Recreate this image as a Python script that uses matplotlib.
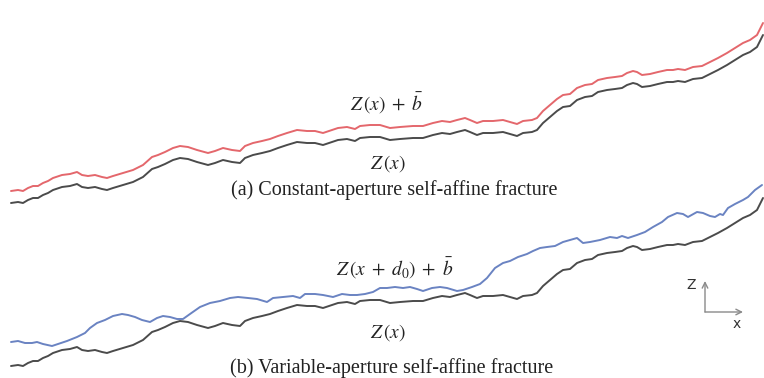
import matplotlib.pyplot as plt

# fracture wall profile Z(x), heights above the left end of the profile
profile_x = [11, 18, 23, 28, 33, 38, 43, 48, 53, 62, 70, 77, 82, 88, 95, 102, 107, 113, 123, 133,
             143, 152, 158, 165, 173, 180, 188, 197, 208, 215, 223, 232, 240, 245, 253, 262, 270, 278, 287, 297,
             307, 315, 323, 332, 338, 347, 355, 360, 370, 380, 390, 400, 413, 423, 433, 442, 450, 457, 465, 470,
             477, 483, 493, 503, 510, 517, 523, 532, 537, 543, 550, 557, 563, 570, 577, 585, 592, 598, 607, 615,
             622, 627, 633, 637, 642, 650, 658, 667, 673, 678, 685, 693, 702, 710, 718, 727, 735, 743, 750, 757,
             763]
profile_z = [0, 1, 0, 3, 5, 5, 8, 10, 13, 16, 17, 19, 16, 15, 16, 14, 13, 15, 18, 21,
             26, 34, 36, 39, 43, 45, 44, 41, 38, 40, 43, 41, 40, 45, 48, 50, 52, 55, 58, 61,
             60, 60, 58, 61, 63, 64, 62, 65, 66, 66, 63, 64, 65, 65, 68, 70, 69, 71, 73, 71,
             68, 70, 70, 71, 69, 67, 70, 71, 73, 80, 86, 92, 96, 97, 103, 106, 107, 111, 113, 114,
             115, 118, 120, 119, 116, 117, 119, 121, 121, 122, 121, 124, 125, 129, 133, 138, 143, 148, 151, 156,
             168]
mean_aperture = 12

# shifted upper wall Z(x + d0) + b for the variable-aperture case
shifted_x = [11, 18, 25, 32, 37, 43, 52, 58, 67, 77, 85, 90, 97, 105, 113, 122, 128, 135, 142, 150,
             157, 163, 170, 177, 183, 190, 200, 210, 220, 230, 238, 248, 257, 267, 273, 283, 293, 300, 305, 315,
             323, 333, 342, 350, 357, 365, 373, 380, 387, 395, 403, 410, 417, 423, 432, 440, 447, 457, 463, 472,
             480, 487, 495, 503, 510, 518, 527, 533, 540, 547, 555, 563, 570, 577, 583, 590, 600, 610, 617, 622,
             628, 637, 645, 653, 662, 668, 677, 683, 688, 697, 703, 710, 715, 720, 723, 728, 735, 743, 748, 755,
             762]
shifted_z = [24, 25, 23, 23, 24, 22, 20, 22, 25, 29, 33, 38, 43, 46, 50, 52, 51, 49, 46, 44,
             48, 50, 49, 47, 47, 52, 59, 63, 65, 68, 69, 68, 67, 64, 68, 69, 70, 68, 72, 72,
             71, 69, 72, 71, 71, 72, 74, 78, 78, 79, 78, 79, 77, 75, 78, 79, 78, 75, 76, 79,
             82, 88, 98, 103, 105, 109, 112, 115, 118, 119, 120, 124, 126, 128, 123, 124, 126, 129, 128, 130,
             128, 131, 134, 139, 144, 149, 153, 152, 149, 154, 153, 150, 149, 152, 151, 158, 162, 166, 169, 176,
             181]

base_a = 175
base_b = 12

plt.rcParams['mathtext.fontset'] = 'stix'

fig = plt.figure(figsize=(7.64, 3.78), dpi=100)
ax = fig.add_axes([0, 0, 1, 1])
ax.set_xlim(0, 764)
ax.set_ylim(0, 378)
ax.axis('off')

line_kw = dict(lw=1.4, solid_joinstyle='round', solid_capstyle='round')

# (a) constant aperture
ax.plot(profile_x, [base_a + z + mean_aperture for z in profile_z], color='#e4676c', **line_kw)
ax.plot(profile_x, [base_a + z for z in profile_z], color='#4b4b4b', **line_kw)

# (b) variable aperture
ax.plot(shifted_x, [base_b + z for z in shifted_z], color='#6a83c2', **line_kw)
ax.plot(profile_x, [base_b + z for z in profile_z], color='#4b4b4b', **line_kw)

math_kw = dict(fontsize=14, ha='center', va='center', color='#222222')
ax.text(387, 275, r'$Z\,(x)\;+\;\bar{b}$', **math_kw)
ax.text(388, 214, r'$Z\,(x)$', **math_kw)
ax.text(395, 110, r'$Z\,(x\;+\;d_0)\;+\;\bar{b}$', **math_kw)
ax.text(388, 45, r'$Z\,(x)$', **math_kw)

cap_kw = dict(fontsize=14.5, ha='center', va='center', family='Liberation Serif', color='#222222')
ax.text(394, 188, '(a) Constant-aperture self-affine fracture', **cap_kw)
ax.text(392, 10, '(b) Variable-aperture self-affine fracture', **cap_kw)

# coordinate sketch
arrow_kw = dict(arrowstyle='->', color='#8a8a8a', lw=1.0, shrinkA=0, shrinkB=0, mutation_scale=10)
ax.annotate('', xy=(705, 97), xytext=(705, 66), arrowprops=arrow_kw)
ax.annotate('', xy=(743, 66), xytext=(705, 66), arrowprops=arrow_kw)
ax.text(691, 93, 'Z', fontsize=10, ha='center', va='center', color='#333333')
ax.text(737, 54, 'x', fontsize=10, ha='center', va='center', color='#333333')

fig.savefig('out.png', dpi=100, facecolor='white')
